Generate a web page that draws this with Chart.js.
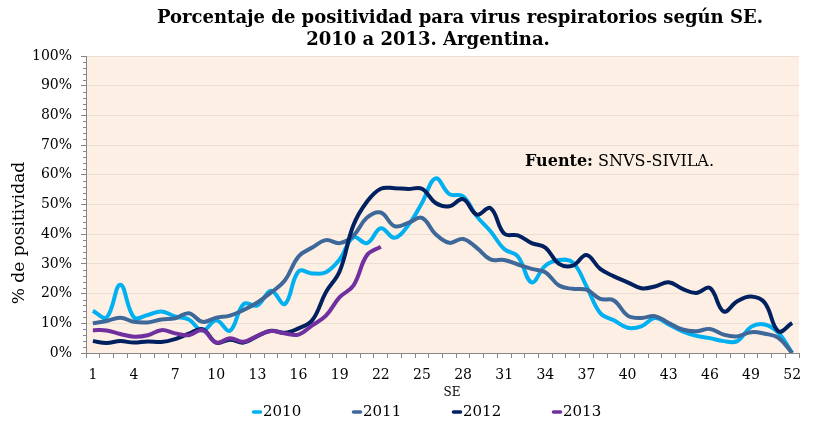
<!DOCTYPE html>
<html><head><meta charset="utf-8">
<script src="https://cdn.jsdelivr.net/npm/chart.js@4/dist/chart.umd.min.js"></script>
<style>html,body{margin:0;padding:0;background:#fff}#wrap{width:813px;height:423px;position:relative}</style>
</head><body><div id="wrap"><canvas id="c" width="813" height="423"></canvas></div>
<script>
const weeks = ['1','2','3','4','5','6','7','8','9','10','11','12','13','14','15','16','17','18','19','20','21','22','23','24','25','26','27','28','29','30','31','32','33','34','35','36','37','38','39','40','41','42','43','44','45','46','47','48','49','50','51','52'];
const s2010 = [14.2,12,23,12,12.8,14,12.3,11.3,7.5,11,7.5,16.5,16,21,16.5,27.5,26.8,27.2,31.5,39,37,42,38.8,43,50.5,58.8,53.5,52.8,46,41,35,32.5,23.8,29.4,31.3,30.5,22.5,13.5,11,8.5,9,11.8,9.6,7.3,5.8,5,4,4,8.8,9.6,6.8,0];
const s2011 = [10,10.8,11.9,10.5,10.3,11.3,11.7,13.4,10.5,11.9,12.6,14.5,17,20.4,24.4,32.5,35.5,38,37,39.5,45.6,47.3,42.7,43.8,45.5,40,37.1,38.4,35.4,31.5,31.3,29.8,28.3,27.2,22.7,21.6,21.3,18.2,17.7,12.6,11.8,12.4,10.1,7.9,7.3,8.1,6.2,5.6,7,6.5,5.1,0];
const s2012 = [4,3.4,4,3.5,3.9,3.7,4.7,6.5,8,3.5,4.5,3.5,5.7,7.5,6.8,8.3,11,20.5,27.5,43,51,55.3,55.5,55.2,55.3,50.5,49.4,51.8,46.6,48.8,40.2,39.6,37,35.5,30,29.4,33,28.3,25.8,23.8,21.8,22.4,23.8,21.6,20.2,21.9,14,17.4,19,16.9,7.3,10.1];
const s2013 = [7.7,7.6,6.4,5.5,6,7.7,6.6,6,7.7,3.5,5,3.8,5.8,7.4,6.6,6.2,9.3,12.6,18.8,22.7,33,35.8];
const seriesNames = ['2010','2011','2012','2013'];
const seriesColors = ['#00b0f0','#3d6899','#002060','#7030a0'];
const titleLines = ['Porcentaje de positividad para virus respiratorios según SE.','2010 a 2013. Argentina.'];
const yAxisTitle = '% de positividad';
const xAxisTitle = 'SE';
const sourceBold = 'Fuente:';
const sourceText = ' SNVS-SIVILA.';

const SERIF = '"DejaVu Serif", "Liberation Serif", serif';

const decor = {
  id: 'decor',
  beforeDraw(chart) {
    const {ctx, chartArea: a} = chart;
    ctx.save();
    ctx.fillStyle = '#fdefe3';
    ctx.fillRect(a.left, a.top, a.right - a.left, a.bottom - a.top);
    ctx.restore();
  },
  afterDraw(chart) {
    const {ctx, chartArea: a} = chart;
    const ys = chart.scales.y;
    ctx.save();
    ctx.strokeStyle = '#868686';
    ctx.lineWidth = 1;
    for (let v = 2; v < 100; v += 2) {
      if (v % 10 === 0) continue;
      const y = Math.round(ys.getPixelForValue(v)) + 0.5;
      ctx.beginPath(); ctx.moveTo(a.left - 3, y); ctx.lineTo(a.left, y); ctx.stroke();
    }
    ctx.fillStyle = '#000';
    ctx.textAlign = 'center';
    ctx.textBaseline = 'alphabetic';
    ctx.font = 'bold 18px ' + SERIF;
    ctx.fillText(titleLines[0], 460, 23);
    ctx.fillText(titleLines[1], 428, 45);
    ctx.save();
    ctx.translate(20, 233);
    ctx.rotate(-Math.PI / 2);
    ctx.font = '17px ' + SERIF;
    ctx.textBaseline = 'middle';
    ctx.fillText(yAxisTitle, 0, 0);
    ctx.restore();
    ctx.font = '12px ' + SERIF;
    ctx.textBaseline = 'middle';
    ctx.fillText(xAxisTitle, 452, 393);
    ctx.textAlign = 'left';
    ctx.textBaseline = 'alphabetic';
    ctx.font = 'bold 16px ' + SERIF;
    ctx.fillText(sourceBold, 525, 166);
    const w = ctx.measureText(sourceBold).width;
    ctx.font = '16px ' + SERIF;
    ctx.fillText(sourceText, 525 + w, 166);
    ctx.textBaseline = 'middle';
    ctx.font = '15px ' + SERIF;
    chart.data.datasets.forEach((ds, i) => {
      const x0 = 252 + i * 100;
      ctx.strokeStyle = ds.borderColor;
      ctx.lineWidth = 3.5;
      ctx.lineCap = 'round';
      ctx.beginPath(); ctx.moveTo(x0 + 1.5, 412); ctx.lineTo(x0 + 8.5, 412); ctx.stroke();
      ctx.fillStyle = '#000';
      ctx.fillText(ds.label, x0 + 11, 412);
    });
    ctx.restore();
  }
};

const allSeries = [s2010, s2011, s2012, s2013];
new Chart(document.getElementById('c'), {
  type: 'line',
  data: {
    labels: weeks,
    datasets: allSeries.map((d, i) => ({
      label: seriesNames[i],
      data: d,
      borderColor: seriesColors[i],
      backgroundColor: seriesColors[i],
      borderWidth: 4,
      pointRadius: 0,
      tension: 0.4,
      fill: false,
      order: 4 - i
    }))
  },
  options: {
    responsive: false,
    devicePixelRatio: 1,
    animation: false,
    layout: {padding: {left: 0, right: 14, top: 56, bottom: 0}},
    plugins: {legend: {display: false}, title: {display: false}, tooltip: {enabled: false}},
    scales: {
      x: {
        type: 'category',
        offset: true,
        afterFit(s) { s.height = 70; },
        grid: {drawOnChartArea: false, offset: true, tickLength: 5, color: '#868686'},
        border: {color: '#868686', width: 1},
        ticks: {
          autoSkip: false, maxRotation: 0, padding: 9, color: '#000',
          font: {family: SERIF, size: 14},
          callback: (v, i) => (i % 3 === 0 ? weeks[i] : '')
        }
      },
      y: {
        min: 0, max: 100,
        afterFit(s) { s.width = 86; },
        grid: {color: '#eadfd4', tickLength: 5, tickColor: '#868686'},
        border: {color: '#868686', width: 1},
        ticks: {
          stepSize: 10, padding: 9, color: '#000',
          font: {family: SERIF, size: 14},
          callback: v => v + '%'
        }
      }
    }
  },
  plugins: [decor]
});
</script>
</body></html>
